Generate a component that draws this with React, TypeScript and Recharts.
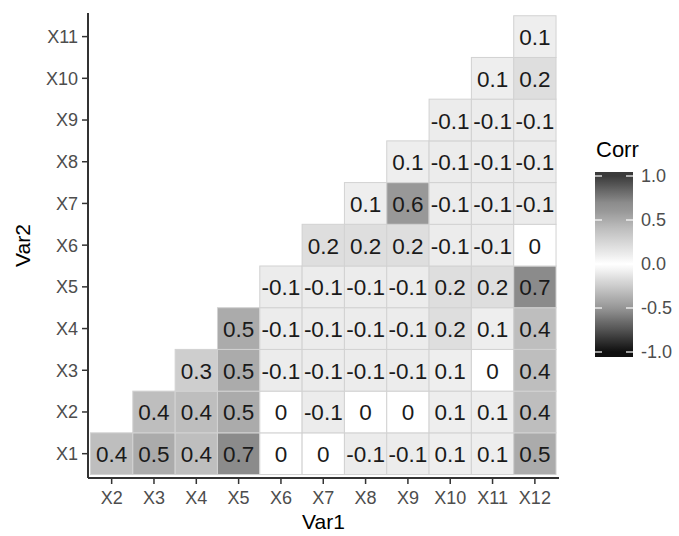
import React from 'react';
import { ScatterChart, Scatter, XAxis, YAxis } from 'recharts';

// axis categories
const var1Labels = ['X2', 'X3', 'X4', 'X5', 'X6', 'X7', 'X8', 'X9', 'X10', 'X11', 'X12'];
const var2Labels = ['X1', 'X2', 'X3', 'X4', 'X5', 'X6', 'X7', 'X8', 'X9', 'X10', 'X11'];

// each row: corr of Var2 = Xi with Var1 = X(i+1) .. X12
const corrX1 = [0.4, 0.5, 0.4, 0.7, 0, 0, -0.1, -0.1, 0.1, 0.1, 0.5];
const corrX2 = [0.4, 0.4, 0.5, 0, -0.1, 0, 0, 0.1, 0.1, 0.4];
const corrX3 = [0.3, 0.5, -0.1, -0.1, -0.1, -0.1, 0.1, 0, 0.4];
const corrX4 = [0.5, -0.1, -0.1, -0.1, -0.1, 0.2, 0.1, 0.4];
const corrX5 = [-0.1, -0.1, -0.1, -0.1, 0.2, 0.2, 0.7];
const corrX6 = [0.2, 0.2, 0.2, -0.1, -0.1, 0];
const corrX7 = [0.1, 0.6, -0.1, -0.1, -0.1];
const corrX8 = [0.1, -0.1, -0.1, -0.1];
const corrX9 = [-0.1, -0.1, -0.1];
const corrX10 = [0.1, 0.2];
const corrX11 = [0.1];
const corrRows = [corrX1, corrX2, corrX3, corrX4, corrX5, corrX6, corrX7, corrX8, corrX9, corrX10, corrX11];

const legendBreaks = [1, 0.5, 0, -0.5, -1];

const W = 679;
const H = 536;
const M = { top: 13, right: 120, bottom: 6, left: 10 };
const Y_AXIS_W = 78;
const X_AXIS_H = 52;
const X_DOMAIN: [number, number] = [0.441, 11.57];
const Y_DOMAIN: [number, number] = [0.417, 11.566];
const PLOT_W = W - M.left - Y_AXIS_W - M.right;
const PLOT_H = H - M.top - M.bottom - X_AXIS_H;
const CELL_W = PLOT_W / (X_DOMAIN[1] - X_DOMAIN[0]);
const CELL_H = PLOT_H / (Y_DOMAIN[1] - Y_DOMAIN[0]);

const FONT = '"Liberation Sans", Arial, sans-serif';

// grey ramp: white at 0, dark towards +1 / -1
const posStops = [[0, 255], [0.1, 238], [0.2, 222], [0.3, 206], [0.4, 190], [0.5, 171], [0.6, 152], [0.7, 139], [1, 58]];
const negStops = [[0, 255], [0.1, 236], [0.5, 150], [1, 15]];

const fillFor = (v: number) => {
  const stops = v >= 0 ? posStops : negStops;
  const a = Math.min(Math.abs(v), 1);
  let g = stops[stops.length - 1][1];
  for (let i = 1; i < stops.length; i++) {
    if (a <= stops[i][0]) {
      const [x0, g0] = stops[i - 1];
      const [x1, g1] = stops[i];
      g = g0 + ((a - x0) / (x1 - x0)) * (g1 - g0);
      break;
    }
  }
  const h = Math.round(g).toString(16).padStart(2, '0');
  return `#${h}${h}${h}`;
};

const cells: { x: number; y: number; value: number }[] = [];
corrRows.forEach((row, i) => {
  row.forEach((value, k) => {
    cells.push({ x: i + k + 1, y: i + 1, value });
  });
});

const Tile = (props: any) => {
  const { cx, cy, payload } = props;
  if (cx == null || cy == null) return null;
  return (
    <g>
      <rect
        x={cx - CELL_W / 2}
        y={cy - CELL_H / 2}
        width={CELL_W}
        height={CELL_H}
        fill={fillFor(payload.value)}
        stroke="#d2d2d2"
        strokeWidth={1}
      />
      <text
        x={cx}
        y={cy + 1}
        textAnchor="middle"
        dominantBaseline="central"
        fontSize={22.5}
        fontFamily={FONT}
        fill="#1a1a1a"
      >
        {String(payload.value)}
      </text>
    </g>
  );
};

const BAR_X = 595;
const BAR_W = 38;
const BAR_TOP = 172;
const BAR_BOTTOM = 357;
const V_TOP = 176;
const V_BOTTOM = 352;
const legendY = (b: number) => V_TOP + ((1 - b) / 2) * (V_BOTTOM - V_TOP);

const gradStops = Array.from({ length: 41 }, (_, i) => 1 - i * 0.05);

export default function App() {
  return (
    <div style={{ position: 'absolute', left: 0, top: 0, width: W, height: H, background: '#fff' }}>
      <ScatterChart width={W} height={H} margin={M}>
        <XAxis
          type="number"
          dataKey="x"
          domain={X_DOMAIN}
          ticks={var1Labels.map((_, i) => i + 1)}
          interval={0}
          tickFormatter={(v: number) => var1Labels[v - 1]}
          height={X_AXIS_H}
          axisLine={{ stroke: '#333', strokeWidth: 2 }}
          tickLine={{ stroke: '#333', strokeWidth: 1.5 }}
          tickSize={6}
          tickMargin={7}
          tick={{ fill: '#4d4d4d', fontSize: 18, fontFamily: FONT }}
          label={{ value: 'Var1', position: 'insideBottom', offset: 1, fill: '#000', fontSize: 21, fontFamily: FONT }}
        />
        <YAxis
          type="number"
          dataKey="y"
          domain={Y_DOMAIN}
          ticks={var2Labels.map((_, i) => i + 1)}
          interval={0}
          tickFormatter={(v: number) => var2Labels[v - 1]}
          width={Y_AXIS_W}
          axisLine={{ stroke: '#333', strokeWidth: 2 }}
          tickLine={{ stroke: '#333', strokeWidth: 1.5 }}
          tickSize={6}
          tickMargin={4}
          tick={{ fill: '#4d4d4d', fontSize: 18, fontFamily: FONT }}
          label={{
            value: 'Var2',
            angle: -90,
            position: 'insideLeft',
            offset: 13,
            fill: '#000',
            fontSize: 21,
            fontFamily: FONT,
            style: { textAnchor: 'middle' },
          }}
        />
        <Scatter data={cells} shape={Tile} isAnimationActive={false} />
      </ScatterChart>

      <svg width={W} height={H} style={{ position: 'absolute', left: 0, top: 0, pointerEvents: 'none' }}>
        <defs>
          <linearGradient id="corrGrad" gradientUnits="userSpaceOnUse" x1={0} y1={V_TOP} x2={0} y2={V_BOTTOM}>
            {gradStops.map(v => (
              <stop key={v.toFixed(2)} offset={(1 - v) / 2} stopColor={fillFor(v)} />
            ))}
          </linearGradient>
        </defs>
        <text x={596} y={157} fontSize={22} fontFamily={FONT} fill="#000">Corr</text>
        <rect x={BAR_X} y={BAR_TOP} width={BAR_W} height={BAR_BOTTOM - BAR_TOP} fill="url(#corrGrad)" />
        {legendBreaks.map(b => (
          <g key={b}>
            <line x1={BAR_X} x2={BAR_X + 7} y1={legendY(b)} y2={legendY(b)} stroke="#fff" strokeWidth={1.2} />
            <line x1={BAR_X + BAR_W - 7} x2={BAR_X + BAR_W} y1={legendY(b)} y2={legendY(b)} stroke="#fff" strokeWidth={1.2} />
            <text x={641} y={legendY(b)} dominantBaseline="central" fontSize={18} fontFamily={FONT} fill="#4d4d4d">
              {b.toFixed(1)}
            </text>
          </g>
        ))}
      </svg>
    </div>
  );
}
